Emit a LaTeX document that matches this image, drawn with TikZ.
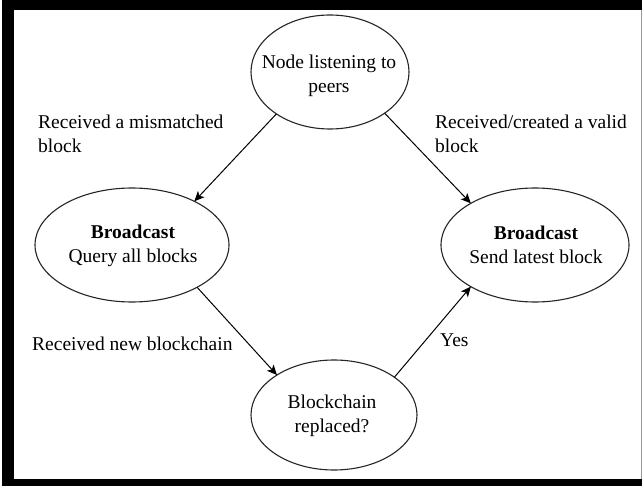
\documentclass[tikz,border=0pt]{standalone}
\usepackage{fontspec}
\setmainfont{Liberation Serif}
\usetikzlibrary{shapes.geometric,arrows.meta}
\begin{document}
\begin{tikzpicture}[x=1pt,y=-1pt,
  ell/.style={draw=black!85, ellipse, line width=1.1pt, inner sep=0pt, outer sep=0pt},
  txt/.style={align=center, font=\fontsize{19.5}{23.5}\selectfont, inner sep=0pt},
  lbl/.style={align=left, font=\fontsize{19.5}{23.5}\selectfont, inner sep=0pt, anchor=west},
  arr/.style={-{Stealth[length=10pt,width=9pt,inset=2.5pt]}, line width=1pt}]
\useasboundingbox (0,0) rectangle (642,486);
\fill[white] (0,0) rectangle (642,486);
\fill[black] (2,0) rectangle (14,486);
\fill[black] (2,0) rectangle (642,10);
\fill[black] (2,479) rectangle (642,486);
\draw[black!40, line width=1pt] (641,10) -- (641,479);

\node[ell, minimum width=158pt, minimum height=114pt] (top) at (330,72) {};
\node[ell, minimum width=194pt, minimum height=114pt] (left) at (132,245) {};
\node[ell, minimum width=188pt, minimum height=114pt] (right) at (535,245) {};
\node[ell, minimum width=166pt, minimum height=110pt] (bot) at (334,415) {};

\node[txt] (topt) at (329,76) {Node listening to\\peers};
\node[txt] (leftt) at (133,246) {\textbf{Broadcast}\\Query all blocks};
\node[txt] (rightt) at (536,245) {\textbf{Broadcast}\\Send latest block};
\node[txt] (bott) at (332,416) {Blockchain\\replaced?};

\draw[arr] (top.218) -- (left.35);
\draw[arr] (top.-37) -- (right.147);
\draw[arr] (left.-33) -- (bot.145);
\draw[arr] (bot.32) -- (right.213);

\node[lbl] (l1) at (38,134) {Received a mismatched\\block};
\node[lbl] (l2) at (435,134) {Received/created a valid\\block};
\node[lbl] (l3) at (32,344) {Received new blockchain};
\node[lbl] (l4) at (440,340) {Yes};
\end{tikzpicture}
\end{document}
